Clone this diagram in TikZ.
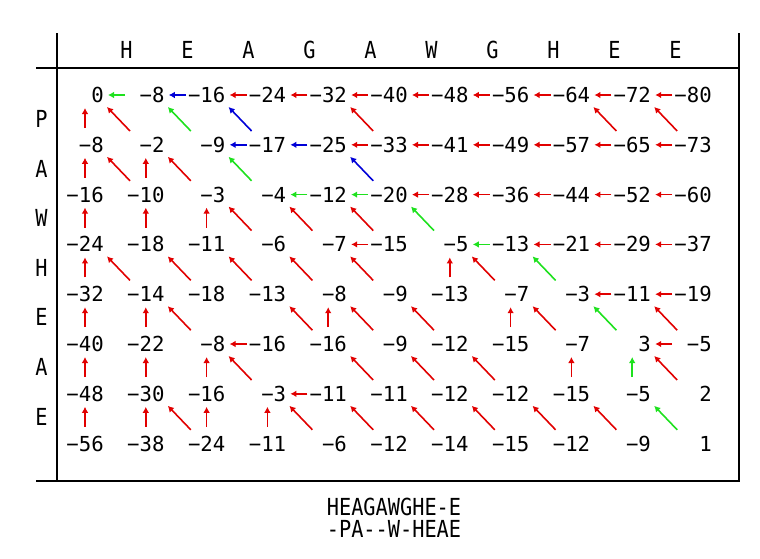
\documentclass[tikz,border=0pt]{standalone}
\usepackage{fontspec}
\setmonofont{DejaVu Sans Mono}
\usetikzlibrary{arrows.meta}
\definecolor{rot}{RGB}{225,0,0}
\definecolor{gruen}{RGB}{30,225,30}
\definecolor{blau}{RGB}{0,0,215}
\newcommand{\hoch}[1]{\scalebox{0.95}[1.1]{#1}}
\tikzset{
  rahmen/.style={line width=1.5pt},
  zahl/.style={anchor=east,inner sep=0pt,text height=11.3pt,text depth=0pt,
    font=\ttfamily\fontsize{15.5}{16}\selectfont},
  buchst/.style={inner sep=0pt,font=\ttfamily\fontsize{16}{17}\selectfont},
  pfeil/.style={line width=1.2pt,-{Latex[length=4.5pt,width=5pt]}},
}
\begin{document}
\begin{tikzpicture}[x=0.75pt,y=-0.75pt]
\useasboundingbox (0,0) rectangle (760,558);
%
% Rahmen der Tabelle
\draw[rahmen] (57,33) -- (57,481);
\draw[rahmen] (739,33) -- (739,480);
\draw[rahmen] (36,68) -- (740,68);
\draw[rahmen] (36,481) -- (740,481);
%
% Sequenzen an den Raendern
\foreach \s [count=\k from 0] in {H,E,A,G,A,W,G,H,E,E}
  \node[buchst] (s-\k) at ({126.5+61*\k},49.5) {\hoch{\s}};
\foreach \s [count=\k from 1] in {P,A,W,H,E,A,E}
  \node[buchst] (t-\k) at (41.5,{119+49.6*(\k-1)}) {\hoch{\s}};
%
% --- Matrix der Werte ---
\foreach \zeile [count=\i from 0] in {
  {0,−8,−16,−24,−32,−40,−48,−56,−64,−72,−80},
  {−8,−2,−9,−17,−25,−33,−41,−49,−57,−65,−73},
  {−16,−10,−3,−4,−12,−20,−28,−36,−44,−52,−60},
  {−24,−18,−11,−6,−7,−15,−5,−13,−21,−29,−37},
  {−32,−14,−18,−13,−8,−9,−13,−7,−3,−11,−19},
  {−40,−22,−8,−16,−16,−9,−12,−15,−7,3,−5},
  {−48,−30,−16,−3,−11,−11,−12,−12,−15,−5,2},
  {−56,−38,−24,−11,−6,−12,−14,−15,−12,−9,1}}
  \foreach \v [count=\j from 0] in \zeile
    \node[zahl] (c-\i-\j) at ({104+60.8*\j},{95+49.8*\i}) {\v};
%
% --- Pfeile nach links ---
\foreach \i/\j/\f in {0/1/gruen,0/2/blau,0/3/rot,0/4/rot,0/5/rot,0/6/rot,0/7/rot,0/8/rot,0/9/rot,0/10/rot,
    1/3/blau,1/4/blau,1/5/rot,1/6/rot,1/7/rot,1/8/rot,1/9/rot,1/10/rot,
    2/4/gruen,2/5/gruen,2/6/rot,2/7/rot,2/8/rot,2/9/rot,2/10/rot,
    3/5/rot,3/7/gruen,3/8/rot,3/9/rot,3/10/rot,
    4/9/rot,4/10/rot,5/3/rot,5/10/rot,6/4/rot}{
  \pgfmathtruncatemacro\b{\j-1}
  \draw[pfeil,\f] ([shift={(21,0)}]c-\i-\b.east) -- ([shift={(4,0)}]c-\i-\b.east);
}
%
% --- Pfeile nach oben ---
\foreach \i/\j/\f in {1/0/rot,2/0/rot,3/0/rot,4/0/rot,5/0/rot,6/0/rot,7/0/rot,
    2/1/rot,3/1/rot,3/2/rot,4/6/rot,5/1/rot,5/4/rot,5/7/rot,
    6/1/rot,6/2/rot,6/8/rot,6/9/gruen,7/1/rot,7/2/rot,7/3/rot}{
  \pgfmathtruncatemacro\a{\i-1}
  \draw[pfeil,\f] ([shift={(-19,33)}]c-\a-\j.east) -- ([shift={(-19,13)}]c-\a-\j.east);
}
%
% --- Pfeile diagonal ---
\foreach \i/\j/\f in {1/1/rot,1/2/gruen,1/3/blau,1/5/rot,1/9/rot,1/10/rot,
    2/1/rot,2/2/rot,2/3/gruen,2/5/blau,
    3/3/rot,3/4/rot,3/5/rot,3/6/gruen,
    4/1/rot,4/2/rot,4/3/rot,4/4/rot,4/5/rot,4/7/rot,4/8/gruen,
    5/2/rot,5/4/rot,5/5/rot,5/6/rot,5/8/rot,5/9/gruen,5/10/rot,
    6/3/rot,6/5/rot,6/6/rot,6/7/rot,6/10/rot,
    7/2/rot,7/4/rot,7/5/rot,7/6/rot,7/7/rot,7/8/rot,7/9/rot,7/10/gruen}{
  \pgfmathtruncatemacro\a{\i-1}
  \pgfmathtruncatemacro\b{\j-1}
  \draw[pfeil,\f] ([shift={(26,36)}]c-\a-\b.east) -- ([shift={(3,12)}]c-\a-\b.east);
}
%
% Ergebnis der Ausrichtung
\node[buchst] (al-1) at (394,506.5) {\hoch{HEAGAWGHE-E}};
\node[buchst] (al-2) at (394,529) {\hoch{-PA--W-HEAE}};
\end{tikzpicture}
\end{document}
